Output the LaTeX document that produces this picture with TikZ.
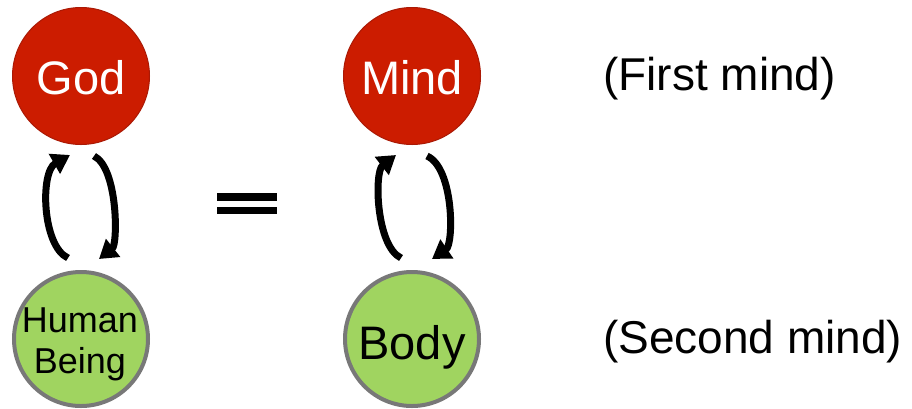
\documentclass[tikz,border=0pt]{standalone}
\usepackage{fontspec}
\setmainfont{Liberation Sans}
\usetikzlibrary{arrows.meta}
\definecolor{godred}{RGB}{204,28,0}
\definecolor{redborder}{RGB}{170,25,5}
\definecolor{leafgreen}{RGB}{160,212,96}
\definecolor{ringgray}{RGB}{120,120,120}
\tikzset{
  topball/.style={circle, fill=godred, draw=redborder, line width=1pt, minimum size=137pt, inner sep=0pt, text=white, font=\fontsize{47}{50}\selectfont},
  lowball/.style={circle, fill=leafgreen, draw=ringgray, line width=4pt, minimum size=134pt, inner sep=0pt, text=black},
  loopline/.style={line width=7pt, -{Triangle[length=18pt,width=22pt]}},
  side/.style={anchor=base west, inner sep=0pt, font=\fontsize{46}{50}\selectfont},
  bar/.style={fill=black, draw=none}
}
\begin{document}
\begin{tikzpicture}[x=1pt,y=-1pt]
\useasboundingbox (0,0) rectangle (912,408);
\node[topball] (god) at (81,76) {};
\node[anchor=base, text=white, inner sep=0pt, font=\fontsize{47}{50}\selectfont] (godtxt) at (81,94) {God};
\node[topball] (mind) at (412,76) {};
\node[anchor=base, text=white, inner sep=0pt, font=\fontsize{47}{50}\selectfont] (mindtxt) at (412,94) {Mind};
\node[lowball] (human) at (81,339) {};
\node[align=center, inner sep=0pt, font=\fontsize{36}{41}\selectfont, anchor=base] (humantxt) at (80,373) {Human\\Being};
\node[lowball] (body) at (412,339) {};
\node[anchor=base, inner sep=0pt, font=\fontsize{47}{50}\selectfont] (bodytxt) at (412,359) {Body};
\node[side] (first) at (603,90) {(First mind)};
\node[side] (second) at (603,353) {(Second mind)};
% equals sign
\path[bar] (217,193) rectangle (277,201);
\path[bar] (217,207) rectangle (277,214);
% loop endpoints
\coordinate (gl1) at (68,258); \coordinate (gl2) at (70,155);
\coordinate (gr1) at (94,156); \coordinate (gr2) at (99,259);
\coordinate (ml1) at (401,258); \coordinate (ml2) at (396,155);
\coordinate (mr1) at (427,156); \coordinate (mr2) at (432,259);
\draw[loopline] (gl1) .. controls (42,246) and (40,172) .. (gl2);
\draw[loopline] (gr1) .. controls (118,168) and (118,244) .. (gr2);
\draw[loopline] (ml1) .. controls (376,246) and (374,172) .. (ml2);
\draw[loopline] (mr1) .. controls (454,168) and (454,244) .. (mr2);
\end{tikzpicture}
\end{document}
